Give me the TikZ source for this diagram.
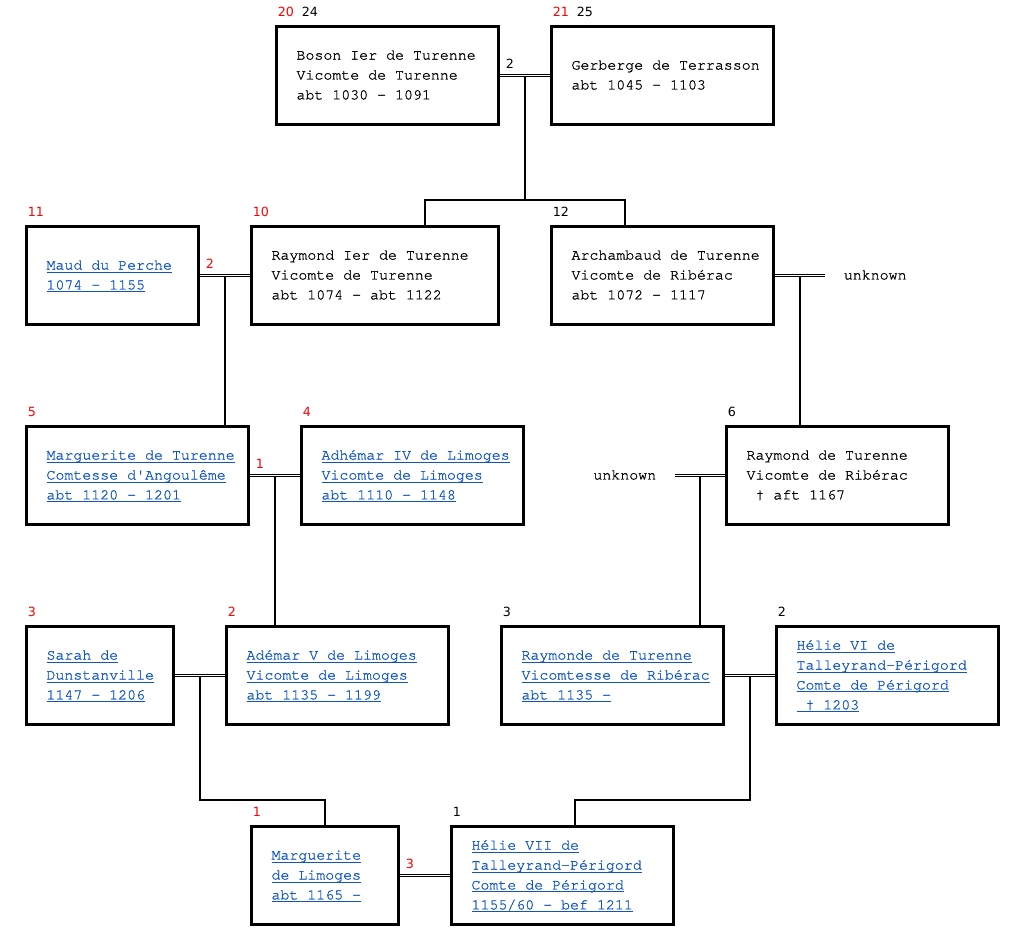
\documentclass[tikz,border=0pt]{standalone}
\usepackage{fontspec}
\usepackage{tikz}
\usetikzlibrary{calc}
\setmonofont{TeX Gyre Cursor}[FakeBold=1]
\newfontfamily\numfont{DejaVu Sans}
\definecolor{linkblue}{RGB}{15,85,200}
\definecolor{numred}{RGB}{255,0,0}
\newcommand\lk[1]{\leavevmode\hbox{\spaceskip=0.6em\xspaceskip=0.6em\strut\color{linkblue}\setbox0\hbox{#1}\rlap{\rule[-1.7pt]{\wd0}{0.55pt}}\box0}}
\newcommand\tx[1]{\leavevmode\hbox{\spaceskip=0.6em\xspaceskip=0.6em\strut #1}}

\begin{document}
\begin{tikzpicture}[x=0.02cm,y=-0.02cm,
  person/.style={draw,line width=0.06cm,minimum height=1.96cm,inner xsep=0.41cm,inner ysep=0pt,align=left,font=\ttfamily\fontsize{8.5}{11.34}\selectfont},
  person225/.style={person,minimum width=4.46cm,text width=3.64cm},
  person250/.style={person,minimum width=4.96cm,text width=4.14cm},
  person175/.style={person,minimum width=3.46cm,text width=2.64cm},
  person150/.style={person,minimum width=2.96cm,text width=2.14cm},
  other/.style={inner xsep=0.37cm,inner ysep=0pt,font=\ttfamily\fontsize{8.5}{11.34}\selectfont},
  tag/.style={inner sep=0pt,anchor=base west,font=\numfont\fontsize{7.2}{8}\selectfont},
  marr/.style={double,line width=0.6pt,double distance=0.8pt},
  child/.style={line width=0.04cm}]
\useasboundingbox (0,0) rectangle (1026,951);

\node[person225] (boson) at (387.5,75.5) {\tx{Boson Ier de Turenne}\\\tx{Vicomte de Turenne}\\\tx{abt 1030 - 1091}};
\node[person225] (gerberge) at (662.5,75.5) {\tx{Gerberge de Terrasson}\\\tx{abt 1045 - 1103}};

\node[person175] (maud) at (112.5,275.5) {\lk{Maud du Perche}\\\lk{1074 - 1155}};
\node[person250] (raymondI) at (375,275.5) {\tx{Raymond Ier de Turenne}\\\tx{Vicomte de Turenne}\\\tx{abt 1074 - abt 1122}};
\node[person225] (archambaud) at (662.5,275.5) {\tx{Archambaud de Turenne}\\\tx{Vicomte de Ribérac}\\\tx{abt 1072 - 1117}};
\node[other,anchor=west] (unknownA) at (825,275.5) {\tx{unknown}};

\node[person225] (marguerite) at (137.5,475.5) {\lk{Marguerite de Turenne}\\\lk{Comtesse d'Angoulême}\\\lk{abt 1120 - 1201}};
\node[person225] (adhemar) at (412.5,475.5) {\lk{Adhémar IV de Limoges}\\\lk{Vicomte de Limoges}\\\lk{abt 1110 - 1148}};
\node[other,anchor=east] (unknownB) at (675,475.5) {\tx{unknown}};
\node[person225] (raymondT) at (837.5,475.5) {\tx{Raymond de Turenne}\\\tx{Vicomte de Ribérac}\\\tx{\ † aft 1167}};

\node[person150] (sarah) at (100,675.5) {\lk{Sarah de}\\\lk{Dunstanville}\\\lk{1147 - 1206}};
\node[person225] (ademar) at (337.5,675.5) {\lk{Adémar V de Limoges}\\\lk{Vicomte de Limoges}\\\lk{abt 1135 - 1199}};
\node[person225] (raymonde) at (612.5,675.5) {\lk{Raymonde de Turenne}\\\lk{Vicomtesse de Ribérac}\\\lk{abt 1135 -}};
\node[person225] (helieVI) at (887.5,675.5) {\lk{Hélie VI de}\\\lk{Talleyrand-Périgord}\\\lk{Comte de Périgord}\\\lk{\ † 1203}};

\node[person150] (margL) at (325,875.5) {\lk{Marguerite}\\\lk{de Limoges}\\\lk{abt 1165 -}};
\node[person225] (helieVII) at (562.5,875.5) {\lk{Hélie VII de}\\\lk{Talleyrand-Périgord}\\\lk{Comte de Périgord}\\\lk{1155/60 - bef 1211}};

\node[tag] (t1) at ($(boson.north west)+(3,-8.5)$) {\textcolor{numred}{20}\hspace{4.5pt}24};
\node[tag] (t2) at ($(gerberge.north west)+(3,-8.5)$) {\textcolor{numred}{21}\hspace{4.5pt}25};
\node[tag,numred] (t3) at ($(maud.north west)+(3,-8.5)$) {11};
\node[tag,numred] (t4) at ($(raymondI.north west)+(3,-8.5)$) {10};
\node[tag] (t5) at ($(archambaud.north west)+(3,-8.5)$) {12};
\node[tag,numred] (t6) at ($(marguerite.north west)+(3,-8.5)$) {5};
\node[tag,numred] (t7) at ($(adhemar.north west)+(3,-8.5)$) {4};
\node[tag] (t8) at ($(raymondT.north west)+(3,-8.5)$) {6};
\node[tag,numred] (t9) at ($(sarah.north west)+(3,-8.5)$) {3};
\node[tag,numred] (t10) at ($(ademar.north west)+(3,-8.5)$) {2};
\node[tag] (t11) at ($(raymonde.north west)+(3,-8.5)$) {3};
\node[tag] (t12) at ($(helieVI.north west)+(3,-8.5)$) {2};
\node[tag,numred] (t13) at ($(margL.north west)+(3,-8.5)$) {1};
\node[tag] (t14) at ($(helieVII.north west)+(3,-8.5)$) {1};

\node[tag] (s1) at ($(boson.east)+(5,-7.5)$) {2};
\node[tag,numred] (s2) at ($(maud.east)+(5,-7.5)$) {2};
\node[tag,numred] (s3) at ($(marguerite.east)+(5,-7.5)$) {1};
\node[tag,numred] (s4) at ($(margL.east)+(5,-7.5)$) {3};

\draw[marr] (boson.east) -- (gerberge.west);
\draw[marr] (maud.east) -- (raymondI.west);
\draw[marr] (archambaud.east) -- (unknownA.west);
\draw[marr] (marguerite.east) -- (adhemar.west);
\draw[marr] (unknownB.east) -- (raymondT.west);
\draw[marr] (sarah.east) -- (ademar.west);
\draw[marr] (raymonde.east) -- (helieVI.west);
\draw[marr] (margL.east) -- (helieVII.west);

\coordinate (f1) at ($(boson.east)!.5!(gerberge.west)+(0,1.5)$);
\coordinate (f2) at ($(maud.east)!.5!(raymondI.west)+(0,1.5)$);
\coordinate (f3) at ($(archambaud.east)!.5!(unknownA.west)+(0,1.5)$);
\coordinate (f4) at ($(marguerite.east)!.5!(adhemar.west)+(0,1.5)$);
\coordinate (f5) at ($(unknownB.east)!.5!(raymondT.west)+(0,1.5)$);
\coordinate (f6) at ($(sarah.east)!.5!(ademar.west)+(0,1.5)$);
\coordinate (f7) at ($(raymonde.east)!.5!(helieVI.west)+(0,1.5)$);
\coordinate (b1) at (425,200);
\coordinate (b2) at (625,200);
\coordinate (b6) at (325,800);
\coordinate (b7) at (575,800);

\draw[child] (f1) |- (b1) -- (b1 |- raymondI.north);
\draw[child] (f1) |- (b2) -- (b2 |- archambaud.north);
\draw[child] (f2) -- (f2 |- marguerite.north);
\draw[child] (f3) -- (f3 |- raymondT.north);
\draw[child] (f4) -- (f4 |- ademar.north);
\draw[child] (f5) -- (f5 |- raymonde.north);
\draw[child] (f6) |- (b6) -- (b6 |- margL.north);
\draw[child] (f7) |- (b7) -- (b7 |- helieVII.north);
\end{tikzpicture}
\end{document}
